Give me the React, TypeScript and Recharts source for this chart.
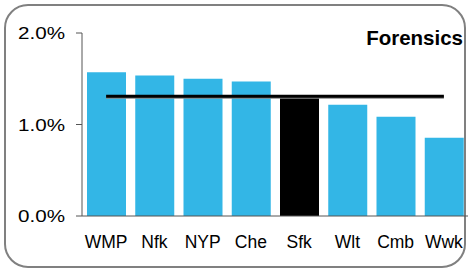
import React from 'react';
import { ComposedChart, Bar, Line, Cell, XAxis, YAxis } from 'recharts';

const regions = ['WMP', 'Nfk', 'NYP', 'Che', 'Sfk', 'Wlt', 'Cmb', 'Wwk'];
const shares = [0.0157, 0.01535, 0.0150, 0.0147, 0.0130, 0.01217, 0.01085, 0.00854];
const benchmark = [0.0131, 0.0131, 0.0131, 0.0131, 0.0131, 0.0131, 0.0131, 0.0131];
const yTicks = [0, 0.01, 0.02];
const highlight = 'Sfk';

const data = regions.map((name, i) => ({ name, share: shares[i], avg: benchmark[i] }));

const font = '"Liberation Sans", Arial, sans-serif';

const fmt = (v: number) => `${(v * 100).toFixed(1)}%`;

// y labels in the reference are a bit wider than plain Arial
const YTick = (props: any) => {
  const { x, y, payload } = props;
  return (
    <text
      x={x - 47}
      y={y}
      dy="0.36em"
      fontSize={17}
      fontFamily={font}
      fill="#000"
      textLength={47}
      lengthAdjust="spacingAndGlyphs"
    >
      {fmt(payload.value)}
    </text>
  );
};

const App: React.FC = () => {
  return (
    <div style={{ position: 'absolute', left: 0, top: 0, width: 468, height: 269, overflow: 'hidden', background: '#fff', fontFamily: font }}>
      <div
        style={{
          position: 'absolute',
          left: 4,
          top: 4,
          width: 462,
          height: 264,
          border: '2px solid #808080',
          borderRadius: 24,
          boxSizing: 'border-box',
        }}
      />
      <ComposedChart
        width={468}
        height={269}
        data={data}
        margin={{ top: 33, right: 0, left: 0, bottom: 0 }}
        style={{ position: 'absolute', left: 0, top: 0 }}
      >
        <XAxis
          dataKey="name"
          height={53}
          tickSize={0}
          tickMargin={20}
          axisLine={{ stroke: '#555' }}
          tick={{ fill: '#000', fontSize: 17.5, fontFamily: font }}
          interval={0}
        />
        <YAxis
          width={82}
          domain={[0, 0.02]}
          ticks={yTicks}
          axisLine={{ stroke: '#555' }}
          tickLine={{ stroke: '#555' }}
          tickSize={6}
          tickMargin={11}
          tick={<YTick />}
        />
        <Bar dataKey="share" barSize={39} isAnimationActive={false}>
          {data.map((d) => (
            <Cell key={d.name} fill={d.name === highlight ? '#000000' : '#33b6e6'} />
          ))}
        </Bar>
        <Line
          dataKey="avg"
          stroke="#000"
          strokeWidth={3}
          dot={false}
          activeDot={false}
          isAnimationActive={false}
          style={{ filter: 'drop-shadow(0px 1.5px 0px #888)' }}
        />
      </ComposedChart>
      <div
        style={{
          position: 'absolute',
          right: 5,
          top: 27,
          fontSize: 20.5,
          fontWeight: 'bold',
          color: '#000',
          lineHeight: '22px',
        }}
      >
        Forensics
      </div>
    </div>
  );
};

export default App;
